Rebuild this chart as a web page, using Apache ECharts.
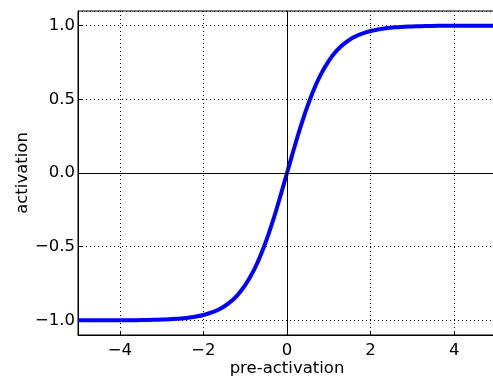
<!DOCTYPE html>
<html>
<head>
    <meta charset="utf-8" />
    <title>activation</title>
    <script src="https://cdn.jsdelivr.net/npm/echarts@6/dist/echarts.min.js"></script>
</head>
<body style="margin:0; background:#ffffff;">
<div id="chart" style="width:493px; height:383px;"></div>
<script type="text/javascript">
    // 读图得到的曲线点
    var xs = [-5.0, -4.8, -4.6, -4.4, -4.2, -4.0, -3.8, -3.6, -3.4, -3.2, -3.0, -2.8, -2.6, -2.4, -2.2, -2.0,
              -1.8, -1.6, -1.4, -1.2, -1.0, -0.8, -0.6, -0.4, -0.2, 0.0, 0.2, 0.4, 0.6, 0.8, 1.0,
              1.2, 1.4, 1.6, 1.8, 2.0, 2.2, 2.4, 2.6, 2.8, 3.0, 3.2, 3.4, 3.6, 3.8, 4.0,
              4.2, 4.4, 4.6, 4.8, 5.0];
    var ys = [-1.0, -1.0, -1.0, -1.0, -1.0, -0.999, -0.999, -0.999, -0.998, -0.997, -0.995, -0.993, -0.989, -0.984, -0.976, -0.964,
              -0.947, -0.922, -0.885, -0.834, -0.762, -0.664, -0.537, -0.380, -0.197, 0.0, 0.197, 0.380, 0.537, 0.664, 0.762,
              0.834, 0.885, 0.922, 0.947, 0.964, 0.976, 0.984, 0.989, 0.993, 0.995, 0.997, 0.998, 0.999, 0.999, 0.999,
              1.0, 1.0, 1.0, 1.0, 1.0];
    var xRange = [-5, 5];
    var yRange = [-1.1, 1.1];

    var points = [];
    for (var i = 0; i < xs.length; i++) {
        points.push([xs[i], ys[i]]);
    }

    function minus(v) {
        return String(v).replace('-', '\u2212');
    }

    var font = 'DejaVu Sans';
    var myChart = echarts.init(document.getElementById('chart'));
    var option = {
        animation: false,
        grid: {
            left: 78, right: -3, top: 11, bottom: 48,
            show: true, borderColor: '#000', borderWidth: 1,
            containLabel: false,
            outerBoundsMode: 'none'
        },
        xAxis: {
            type: 'value',
            min: xRange[0], max: xRange[1],
            splitNumber: 5,
            name: 'pre-activation',
            nameLocation: 'middle',
            nameGap: 25,
            nameMoveOverlap: false,
            nameTextStyle: { fontFamily: font, fontSize: 16.5, color: '#000' },
            axisLine: { onZero: false, lineStyle: { color: '#000', width: 1 } },
            axisTick: { inside: true, length: 4, lineStyle: { color: '#000' } },
            axisLabel: {
                showMinLabel: false, showMaxLabel: false,
                margin: 7, fontFamily: font, fontSize: 16.5, color: '#000',
                formatter: function (v) { return minus(v); }
            },
            splitLine: { show: true, lineStyle: { color: '#000', type: [1, 3], width: 1 } }
        },
        yAxis: {
            type: 'value',
            min: yRange[0], max: yRange[1],
            splitNumber: 4,
            name: 'activation',
            nameLocation: 'middle',
            nameGap: 47,
            nameMoveOverlap: false,
            nameTextStyle: { fontFamily: font, fontSize: 16.5, color: '#000' },
            axisLine: { onZero: false, lineStyle: { color: '#000', width: 1 } },
            axisTick: { inside: true, length: 4, lineStyle: { color: '#000' } },
            axisLabel: {
                showMinLabel: false, showMaxLabel: false,
                margin: 3, fontFamily: font, fontSize: 16.5, color: '#000',
                formatter: function (v) { return minus(v.toFixed(1)); }
            },
            splitLine: { show: true, lineStyle: { color: '#000', type: [1, 3], width: 1 } }
        },
        series: [
            {
                type: 'line',
                data: points,
                smooth: true,
                showSymbol: false,
                lineStyle: { color: '#0000ff', width: 4 },
                markLine: {
                    silent: true,
                    symbol: 'none',
                    label: { show: false },
                    lineStyle: { color: '#000', type: 'solid', width: 1 },
                    data: [{ xAxis: 0 }, { yAxis: 0 }]
                },
                z: 3
            }
        ]
    };
    myChart.setOption(option);
</script>
</body>
</html>
